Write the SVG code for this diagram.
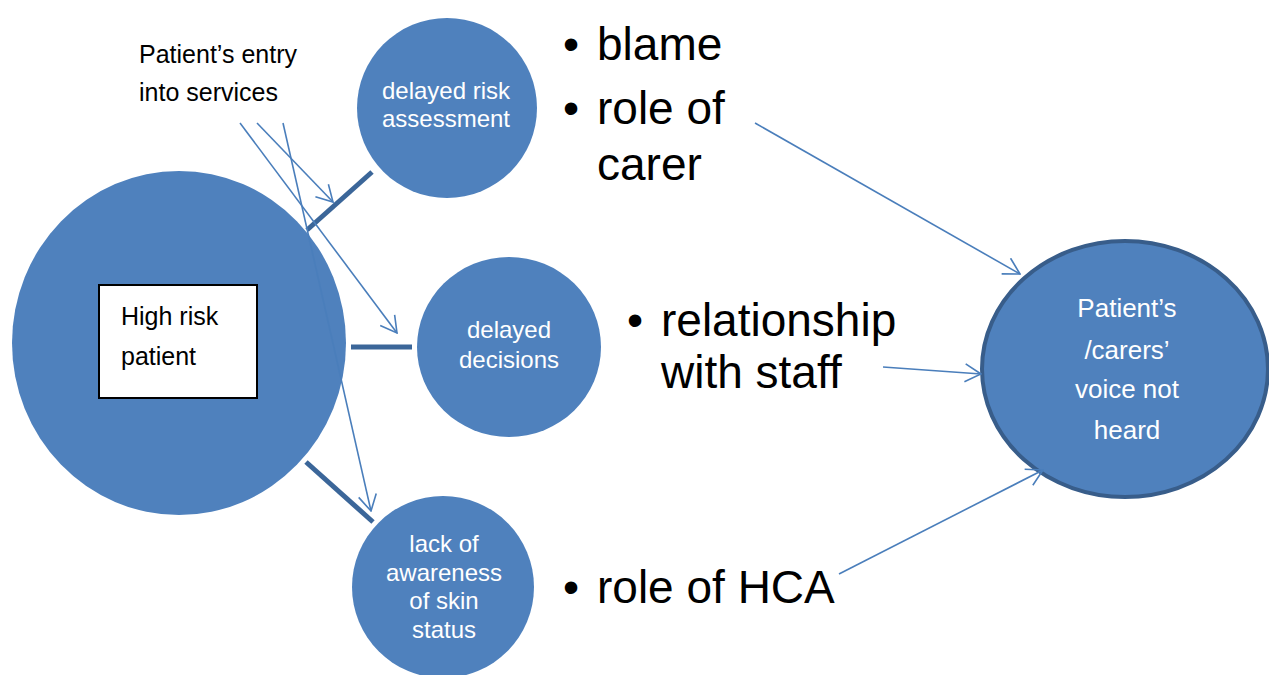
<svg xmlns="http://www.w3.org/2000/svg" width="1269" height="675" viewBox="0 0 1269 675">
<style>
.node{fill:#4F81BD;}
.wt{fill:#FFFFFF;font-family:"Liberation Sans",Arial,sans-serif;font-size:24px;text-anchor:middle;}
.vt{font-size:26px;}
.bt{fill:#000000;font-family:"Liberation Sans",Arial,sans-serif;}
.big{font-size:46px;}
.thin{stroke:#4A7EBB;stroke-width:1.6;fill:none;}
.block{stroke:#3B6699;stroke-width:5;fill:none;}
</style>
<defs>
<marker id="arr" viewBox="0 0 18 20" refX="17" refY="10" markerWidth="18" markerHeight="20" markerUnits="userSpaceOnUse" orient="auto">
<path d="M1,1 L17,10 L1,19" fill="none" stroke="#4A7EBB" stroke-width="1.6"/>
</marker>
</defs>
<rect width="1269" height="675" fill="#FFFFFF"/>

<g id="high-risk-patient">
<ellipse class="node" cx="179" cy="343" rx="167" ry="172"/>
<rect x="99" y="285" width="158" height="113" fill="#FFFFFF" stroke="#000000" stroke-width="2"/>
<text class="bt" font-size="25" x="121" y="325">High risk</text>
<text class="bt" font-size="25" x="121" y="365">patient</text>
</g>

<g id="delayed-risk-assessment">
<circle class="node" cx="447" cy="108" r="90"/>
<text class="wt" x="446" y="99">delayed risk</text>
<text class="wt" x="446" y="127">assessment</text>
</g>

<g id="delayed-decisions">
<ellipse class="node" cx="509" cy="347" rx="92" ry="90"/>
<text class="wt" x="509" y="338">delayed</text>
<text class="wt" x="509" y="368">decisions</text>
</g>

<g id="lack-of-awareness">
<circle class="node" cx="443" cy="587" r="91"/>
<text class="wt" x="444" y="552">lack of</text>
<text class="wt" x="444" y="581">awareness</text>
<text class="wt" x="444" y="609">of skin</text>
<text class="wt" x="444" y="638">status</text>
</g>

<g id="voice-not-heard">
<ellipse class="node" cx="1125" cy="369" rx="143" ry="128" stroke="#385D8A" stroke-width="4"/>
<text class="wt vt" x="1127" y="317">Patient’s</text>
<text class="wt vt" x="1127" y="359">/carers’</text>
<text class="wt vt" x="1127" y="398">voice not</text>
<text class="wt vt" x="1127" y="439">heard</text>
</g>

<g id="entry-label">
<text class="bt" font-size="25" x="139" y="63">Patient’s entry</text>
<text class="bt" font-size="25" x="139" y="101">into services</text>
</g>

<g id="bullets-top">
<text class="bt big" x="563" y="60">•</text>
<text class="bt big" x="597" y="60">blame</text>
<text class="bt big" x="563" y="124">•</text>
<text class="bt big" x="597" y="124">role of</text>
<text class="bt big" x="597" y="180">carer</text>
</g>

<g id="bullets-mid">
<text class="bt big" x="627" y="336">•</text>
<text class="bt big" x="661" y="336">relationship</text>
<text class="bt big" x="661" y="388">with staff</text>
</g>

<g id="bullets-bottom">
<text class="bt big" x="563" y="603">•</text>
<text class="bt big" x="597" y="603">role of HCA</text>
</g>

<g id="connectors">
<line class="block" x1="307" y1="230" x2="372" y2="172"/>
<line class="block" x1="351" y1="347" x2="412" y2="347"/>
<line class="block" x1="306" y1="462" x2="373" y2="522"/>
<line class="thin" x1="257" y1="123" x2="333" y2="202" marker-end="url(#arr)"/>
<line class="thin" x1="240" y1="123" x2="397" y2="333" marker-end="url(#arr)"/>
<line class="thin" x1="283" y1="123" x2="371" y2="511" marker-end="url(#arr)"/>
<line class="thin" x1="755" y1="123" x2="1020" y2="274" marker-end="url(#arr)"/>
<line class="thin" x1="883" y1="367" x2="981" y2="374" marker-end="url(#arr)"/>
<line class="thin" x1="839" y1="574" x2="1043" y2="470" marker-end="url(#arr)"/>
</g>
</svg>
